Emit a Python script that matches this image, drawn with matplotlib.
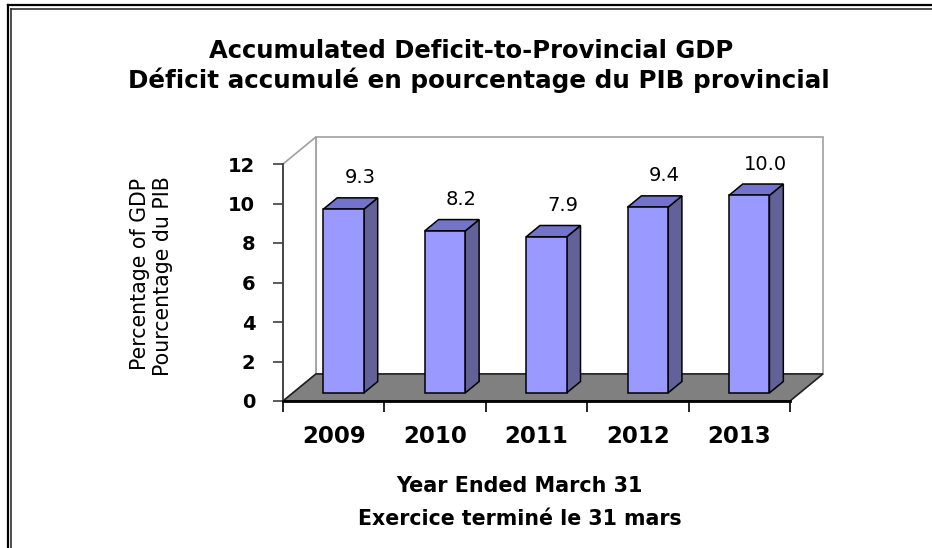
import matplotlib
matplotlib.use("Agg")
import matplotlib.pyplot as plt
from matplotlib.patches import Polygon
from matplotlib.lines import Line2D

plt.rcParams['font.family'] = ['DejaVu Sans']

# ---- data ----
years = ["2009", "2010", "2011", "2012", "2013"]
values = [9.3, 8.2, 7.9, 9.4, 10.0]
value_labels = ["9.3", "8.2", "7.9", "9.4", "10.0"]
y_ticks = [0, 2, 4, 6, 8, 10, 12]
title_lines = ["Accumulated Deficit-to-Provincial GDP",
               "Déficit accumulé en pourcentage du PIB provincial"]
ylabel_lines = ["Percentage of GDP", "Pourcentage du PIB"]
xlabel_lines = ["Year Ended March 31", "Exercice terminé le 31 mars"]

W, H = 932, 548
fig = plt.figure(figsize=(W / 100, H / 100), dpi=100)
fig.patch.set_facecolor("white")

def fx(px):
    return px / W

def fy(py):
    return 1 - py / H

# front plane of the 3D box
ax = fig.add_axes([fx(283), fy(401), fx(790) - fx(283), fy(164) - fy(401)])
ax.set_xlim(-0.5, len(years) - 0.5)
ax.set_ylim(0, 12)
ax.patch.set_alpha(0)

DX, DY = 0.325, 1.37   # depth offset (category units, value units)
x0, x1 = -0.5, len(years) - 0.5
wall_col = "#a0a0a0"

# back wall
ax.add_patch(Polygon([(x0 + DX, DY), (x1 + DX, DY), (x1 + DX, 12 + DY), (x0 + DX, 12 + DY)],
                     closed=True, facecolor="white", edgecolor=wall_col, lw=1.2, clip_on=False, zorder=1))
# side wall
ax.add_patch(Polygon([(x0, 0), (x0 + DX, DY), (x0 + DX, 12 + DY), (x0, 12)],
                     closed=True, facecolor="white", edgecolor=wall_col, lw=1.2, clip_on=False, zorder=1))
# floor
ax.add_patch(Polygon([(x0, 0), (x1, 0), (x1 + DX, DY), (x0 + DX, DY)],
                     closed=True, facecolor="#808080", edgecolor="#202020", lw=1.2, clip_on=False, zorder=2))

# bars
d0, d1 = 0.30, 0.72
hw = 0.2
front_c, top_c, side_c = "#9999FF", "#7373CC", "#626299"
for i, v in enumerate(values):
    fx0 = i - hw + d0 * DX
    fx1 = i + hw + d0 * DX
    by = d0 * DY
    ddx = (d1 - d0) * DX
    ddy = (d1 - d0) * DY
    front = [(fx0, by), (fx1, by), (fx1, by + v), (fx0, by + v)]
    top = [(fx0, by + v), (fx1, by + v), (fx1 + ddx, by + v + ddy), (fx0 + ddx, by + v + ddy)]
    side = [(fx1, by), (fx1 + ddx, by + ddy), (fx1 + ddx, by + v + ddy), (fx1, by + v)]
    for poly, col in ((side, side_c), (top, top_c), (front, front_c)):
        ax.add_patch(Polygon(poly, closed=True, facecolor=col, edgecolor="black",
                             lw=1.1, joinstyle="miter", clip_on=False, zorder=3))
    ax.text(i + 0.26, v + 2.0, value_labels[i], ha="center", va="center",
            fontsize=14, color="black", zorder=4, clip_on=False)

# axes styling
for s in ("top", "right"):
    ax.spines[s].set_visible(False)
ax.spines["left"].set_color("#404040")
ax.spines["left"].set_linewidth(1.3)
ax.spines["bottom"].set_color("black")
ax.spines["bottom"].set_linewidth(2.0)
ax.spines["left"].set_zorder(5)
ax.spines["bottom"].set_zorder(5)

ax.set_yticks(y_ticks)
ax.set_yticklabels([str(t) for t in y_ticks], fontsize=14, fontweight="bold")
ax.tick_params(axis="y", direction="out", length=7, width=1.2, color="#404040", pad=13)

ax.set_xticks([i - 0.5 for i in range(len(years) + 1)])
ax.set_xticklabels([])
ax.set_xticks(range(len(years)), minor=True)
ax.set_xticklabels(years, minor=True, fontsize=16.5, fontweight="bold")
ax.tick_params(axis="x", which="major", direction="out", length=8, width=1.2, color="black")
ax.tick_params(axis="x", which="minor", length=0, pad=17)

renderer = fig.canvas.get_renderer()

def fit(t, target, vertical=False):
    bb = t.get_window_extent(renderer)
    size = bb.height if vertical else bb.width
    t.set_fontsize(t.get_fontsize() * target / size)

# titles
t1 = fig.text(fx(471), fy(58), title_lines[0], ha="center", va="baseline",
              fontsize=16, fontweight="bold")
fit(t1, 528)
t2 = fig.text(fx(479), fy(88), title_lines[1], ha="center", va="baseline",
              fontsize=16, fontweight="bold")
fit(t2, 705)

# x-axis title
xl1 = fig.text(fx(519), fy(492), xlabel_lines[0], ha="center", va="baseline",
               fontsize=14, fontweight="bold")
fit(xl1, 247)
xl2 = fig.text(fx(520), fy(525), xlabel_lines[1], ha="center", va="baseline",
               fontsize=14, fontweight="bold")
fit(xl2, 325)

# y-axis title (two rotated lines, same size)
yl1 = fig.text(fx(140), fy(274), ylabel_lines[0], ha="center", va="center",
               rotation=90, fontsize=12)
fit(yl1, 192, vertical=True)
yl2 = fig.text(fx(163), fy(276), ylabel_lines[1], ha="center", va="center",
               rotation=90, fontsize=yl1.get_fontsize())

# double frame on left and top
for (xa, ya, xb, yb, lw, c) in [
    (7.5, 5, W, 5, 1.6, "black"),
    (7.5, 5, 7.5, H, 1.6, "black"),
    (11, 8.5, W, 8.5, 1.2, "#303030"),
    (11, 8.5, 11, H, 1.2, "#303030"),
]:
    fig.add_artist(Line2D([fx(xa), fx(xb)], [fy(ya), fy(yb)], transform=fig.transFigure,
                          color=c, lw=lw))

fig.savefig("out.png", dpi=100, facecolor="white")
